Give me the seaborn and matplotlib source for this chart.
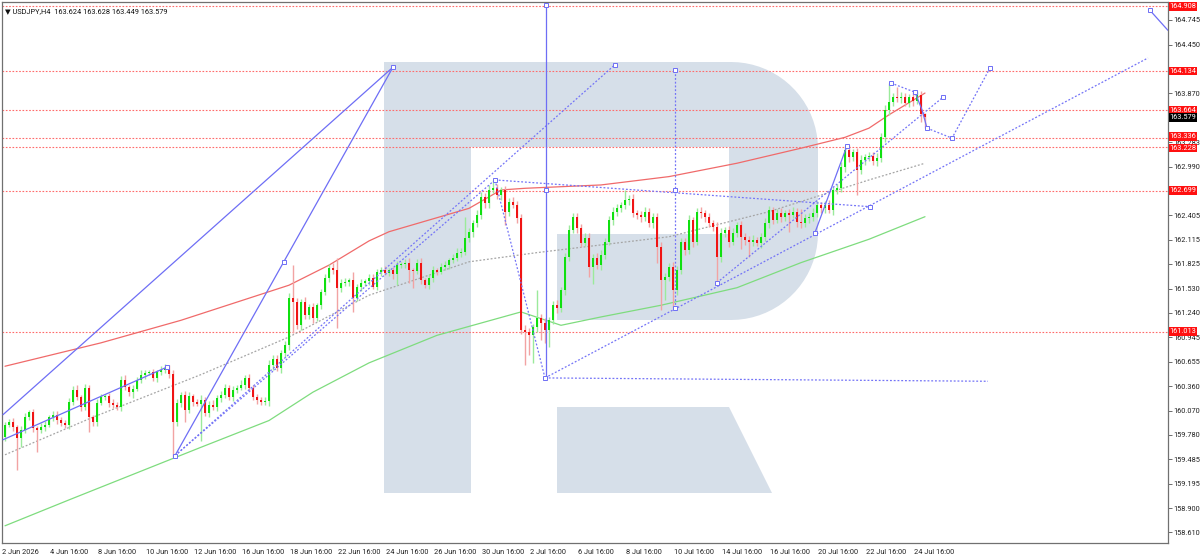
import matplotlib
matplotlib.use("Agg")
import matplotlib.pyplot as plt
from matplotlib.patches import Polygon
from matplotlib.transforms import offset_copy
import numpy as np
import pandas as pd
import seaborn as sns

# --- data (H4 bars, index 0 = first bar on the left) ---
header = "\u25BC USDJPY,H4  163.624 163.628 163.449 163.579"

first_open = 159.75
closes = [
    159.90, 159.93, 159.87, 159.74, 159.84, 159.99, 160.05, 159.86, 159.84, 159.87,
    159.90, 159.99, 160.02, 159.96, 159.92, 159.90, 160.17, 160.32, 160.23, 160.11,
    160.34, 159.99, 159.93, 160.16, 160.23, 160.24, 160.16, 160.14, 160.11, 160.44,
    160.35, 160.29, 160.33, 160.44, 160.50, 160.52, 160.53, 160.46, 160.53, 160.56,
    160.58, 160.51, 159.93, 160.16, 160.26, 160.08, 160.24, 160.17, 160.15, 160.20,
    160.04, 160.14, 160.11, 160.22, 160.26, 160.34, 160.23, 160.32, 160.34, 160.38,
    160.46, 160.34, 160.23, 160.20, 160.17, 160.18, 160.61, 160.69, 160.58, 160.76,
    160.85, 161.42, 161.37, 161.09, 161.37, 161.21, 161.31, 161.18, 161.33, 161.49,
    161.66, 161.78, 161.75, 161.54, 161.60, 161.61, 161.63, 161.42, 161.55, 161.60,
    161.62, 161.66, 161.55, 161.73, 161.75, 161.72, 161.75, 161.70, 161.81, 161.82,
    161.84, 161.75, 161.74, 161.84, 161.63, 161.57, 161.66, 161.75, 161.73, 161.79,
    161.81, 161.87, 161.90, 161.96, 161.97, 162.14, 162.21, 162.31, 162.41, 162.63,
    162.55, 162.71, 162.73, 162.65, 162.71, 162.45, 162.57, 162.53, 162.37, 161.03,
    161.01, 160.97, 161.07, 161.18, 161.12, 161.03, 161.15, 161.33, 161.30, 161.51,
    161.91, 162.23, 162.39, 162.25, 162.08, 162.14, 161.79, 161.90, 161.81, 161.93,
    162.09, 162.35, 162.45, 162.49, 162.53, 162.59, 162.60, 162.43, 162.41, 162.39,
    162.45, 162.31, 162.39, 162.03, 161.63, 161.67, 161.79, 161.51, 161.75, 162.09,
    161.99, 162.35, 162.09, 162.45, 162.43, 162.39, 162.31, 162.27, 161.91, 162.20,
    162.23, 162.09, 162.20, 162.29, 162.15, 162.11, 162.09, 162.11, 162.08, 162.15,
    162.31, 162.47, 162.35, 162.43, 162.39, 162.43, 162.41, 162.45, 162.33, 162.31,
    162.37, 162.39, 162.43, 162.53, 162.49, 162.53, 162.47, 162.71, 162.73, 162.99,
    163.19, 163.10, 163.16, 162.95, 163.07, 163.10, 163.12, 163.06, 163.09, 163.34,
    163.67, 163.76, 163.82, 163.81, 163.82, 163.75, 163.82, 163.78, 163.85, 163.624,
    163.579,
]
wick_up = [
    .03, .04, .05, .03, .04, .05, .03, .04, .03, .05,
    .04, .03, .05, .04, .03, .04, .05, .04, .06, .03,
    .05, .04, .03, .05, .04, .03, .04, .05, .03, .04,
    .05, .03, .04, .03, .05, .04, .03, .04, .03, .04,
    .05, .03, .04, .05, .03, .04, .05, .03, .04, .05,
    .03, .04, .05, .03, .04, .05, .03, .04, .03, .05,
    .04, .05, .03, .04, .03, .05, .06, .04, .05, .03,
    .05, .06, .39, .05, .04, .06, .04, .05, .03, .04,
    .05, .04, .06, .15, .04, .05, .03, .10, .04, .05,
    .03, .04, .05, .03, .04, .05, .03, .04, .05, .03,
    .04, .05, .03, .04, .05, .03, .04, .05, .03, .04,
    .05, .03, .04, .05, .04, .25, .05, .04, .06, .05,
    .04, .06, .10, .05, .04, .05, .04, .06, .05, .05,
    .06, .05, .04, .33, .05, .06, .04, .05, .06, .04,
    .05, .06, .05, .04, .05, .06, .05, .04, .05, .06,
    .04, .05, .06, .05, .04, .12, .05, .06, .04, .05,
    .06, .05, .04, .05, .06, .05, .04, .06, .05, .04,
    .05, .06, .04, .05, .06, .04, .05, .04, .06, .05,
    .04, .05, .06, .04, .05, .04, .05, .06, .04, .05,
    .06, .05, .04, .05, .06, .04, .05, .06, .04, .15,
    .05, .04, .06, .05, .04, .05, .06, .04, .05, .06,
    .05, .06, .04, .05, .06, .04, .05, .04, .06, .05,
    .06, .23, .05, .12, .06, .05, .04, .06, .05, .04,
    .004,
]
wick_dn = [
    .04, .03, .05, .38, .11, .04, .03, .05, .27, .04,
    .05, .03, .04, .05, .03, .04, .05, .03, .04, .05,
    .03, .18, .04, .05, .03, .04, .05, .04, .03, .05,
    .04, .05, .07, .03, .04, .05, .03, .04, .05, .03,
    .04, .05, .42, .04, .05, .15, .04, .05, .03, .45,
    .04, .05, .03, .04, .05, .04, .03, .05, .04, .03,
    .05, .04, .03, .05, .04, .03, .06, .05, .04, .06,
    .05, .06, .37, .05, .06, .04, .05, .06, .04, .05,
    .04, .05, .04, .48, .05, .04, .05, .17, .04, .05,
    .04, .05, .03, .04, .05, .03, .04, .05, .13, .04,
    .05, .15, .20, .04, .05, .03, .04, .05, .04, .03,
    .04, .05, .03, .04, .05, .04, .05, .06, .04, .05,
    .06, .05, .04, .05, .06, .16, .05, .04, .06, .05,
    .39, .23, .33, .06, .21, .15, .20, .05, .06, .05,
    .06, .05, .04, .06, .05, .04, .12, .20, .05, .06,
    .05, .04, .06, .05, .04, .05, .06, .04, .05, .06,
    .05, .04, .06, .20, .36, .24, .05, .21, .06, .05,
    .06, .05, .06, .04, .05, .06, .04, .05, .31, .06,
    .05, .06, .04, .05, .15, .06, .18, .05, .04, .06,
    .05, .06, .05, .04, .06, .05, .20, .04, .06, .05,
    .04, .06, .05, .04, .06, .05, .04, .06, .05, .04,
    .06, .05, .04, .30, .05, .06, .04, .05, .06, .04,
    .05, .06, .04, .05, .06, .04, .05, .06, .04, .10,
    .13,
]

# moving averages (bar index, price)
ma_red_bar = [0, 24, 44, 71, 81, 91, 96, 116, 124, 130, 149, 166, 183, 199, 210, 216, 221, 230]
ma_red_val = [160.60, 160.88, 161.15, 161.57, 161.81, 162.10, 162.21, 162.49, 162.71, 162.73,
              162.77, 162.87, 163.03, 163.21, 163.34, 163.45, 163.61, 163.87]
ma_green_bar = [0, 16, 49, 66, 77, 91, 108, 129, 139, 149, 164, 183, 199, 216, 230]
ma_green_val = [158.69, 159.00, 159.63, 159.95, 160.29, 160.64, 160.97, 161.25, 161.09, 161.19,
                161.33, 161.54, 161.84, 162.12, 162.39]
ma_gray_bar = [0, 22, 49, 71, 91, 116, 133, 166, 191, 216, 230]
ma_gray_val = [159.54, 159.99, 160.50, 160.95, 161.45, 161.85, 161.96, 162.15, 162.45, 162.83, 163.03]

# horizontal levels and the last price
levels = [164.908, 164.134, 163.664, 163.336, 163.228, 162.699, 161.013]
last_price = 163.579

# analyst drawings (bar index, price)
solid_paths = [
    [(-0.5, 160.02), (97, 164.18)],
    [(-0.5, 159.72), (40.5, 160.59)],
    [(42.5, 159.53), (97, 164.18)],
    [(135.25, 164.92), (135.25, 160.46)],
    [(202.5, 162.20), (210.5, 163.24)],
    [(227.5, 163.88), (229.25, 163.67), (230.5, 163.45)],
    [(286.25, 164.86), (290.75, 164.62)],
]
dotted_paths = [
    [(42.5, 159.53), (152.5, 164.21)],
    [(42.5, 159.53), (122.5, 162.83)],
    [(122.5, 162.83), (135, 160.46)],
    [(122.5, 162.83), (216.25, 162.51)],
    [(135, 160.46), (245.75, 160.42)],
    [(135, 160.46), (285.75, 164.29)],
    [(167.5, 164.15), (167.5, 161.30)],
    [(178, 161.60), (234.5, 163.82)],
    [(230.5, 163.45), (236.75, 163.33), (246.25, 164.17)],
    [(221.5, 163.99), (227.5, 163.88)],
]
anchor_points = [
    (97, 164.18), (40.5, 160.59), (42.5, 159.53), (69.75, 161.85), (135.25, 164.92),
    (135.25, 162.71), (135, 160.46), (122.5, 162.83), (152.5, 164.21), (167.5, 162.71),
    (167.5, 161.30), (167.5, 164.15), (178, 161.60), (202.5, 162.20), (210.5, 163.24),
    (221.5, 163.99), (227.5, 163.88), (230.5, 163.45), (236.75, 163.33), (246.25, 164.17),
    (234.5, 163.82), (286.25, 164.86), (216.25, 162.51),
]

y_ticks = [164.745, 164.450, 163.870, 163.283, 162.990, 162.405, 162.115, 161.825, 161.530,
           161.240, 160.945, 160.655, 160.360, 160.070, 159.780, 159.485, 159.195, 158.900, 158.610]
x_labels = ["2 Jun 2026", "4 Jun 16:00", "8 Jun 16:00", "10 Jun 16:00", "12 Jun 16:00",
            "16 Jun 16:00", "18 Jun 16:00", "22 Jun 16:00", "24 Jun 16:00", "26 Jun 16:00",
            "30 Jun 16:00", "2 Jul 16:00", "6 Jul 16:00", "8 Jul 16:00", "10 Jul 16:00",
            "14 Jul 16:00", "16 Jul 16:00", "20 Jul 16:00", "22 Jul 16:00", "24 Jul 16:00"]

# --- build the frame ---
sns.set_style("white")
plt.rcParams["font.family"] = ["Roboto", "DejaVu Sans"]
FS = 5.3

df = pd.DataFrame({"close": closes, "up": wick_up, "dn": wick_dn})
df["bar"] = np.arange(len(df))
df["open"] = [first_open] + closes[:-1]
df["high"] = df[["open", "close"]].max(axis=1) + df["up"]
df["low"] = df[["open", "close"]].min(axis=1) - df["dn"]
rising = df["close"] >= df["open"]

W, H = 1200, 555
fig = plt.figure(figsize=(W / 100, H / 100), dpi=100)
ax = fig.add_axes([2 / W, 12 / H, 1166 / W, 541 / H])
ax.set_xlim(-0.75, 290.75)
ax.set_ylim(158.484, 164.96)


def px(x, y):
    # pixel position in the picture -> axes fraction (for the watermark only)
    return ((x - 2) / 1166, (543 - y) / 541)


# RoboForex-like "R" watermark
t1 = np.linspace(np.pi / 2, 0, 20)
t2 = np.linspace(0, -np.pi / 2, 20)
outer = [(384, 493), (384, 62)]
outer += [(731 + 87 * np.cos(t), 149 - 87 * np.sin(t)) for t in t1]
outer += [(731 + 87 * np.cos(t), 233 - 87 * np.sin(t)) for t in t2]
outer += [(557, 320), (557, 234), (729, 234), (729, 147), (471, 147), (471, 493)]
leg = [(557, 407), (729, 407), (772, 493), (557, 493)]
for shape in (outer, leg):
    ax.add_patch(Polygon([px(*p) for p in shape], closed=True, transform=ax.transAxes,
                         fc="#D6DFE9", ec="none", zorder=0))

# levels
for lv in levels:
    ax.axhline(lv, color="#FF6B6B", lw=0.8, ls=(0, (1.5, 1.5)), zorder=1)

# moving averages
sns.lineplot(x=ma_red_bar, y=ma_red_val, ax=ax, color="#F06A6A", lw=0.9, zorder=2)
sns.lineplot(x=ma_green_bar, y=ma_green_val, ax=ax, color="#7EDC7E", lw=0.9, zorder=2)
sns.lineplot(x=ma_gray_bar, y=ma_gray_val, ax=ax, color="#A5A5A5", lw=0.9,
             linestyle=(0, (1.5, 1.5)), zorder=2)

# candles
wick_col = np.where(rising, "#9BEA9B", "#F2A3A3")
body_col = np.where(rising, "#10E010", "#F01414")
ax.vlines(df["bar"], df["low"], df["high"], colors=wick_col, lw=1.0, zorder=3)
body_h = (df["close"] - df["open"]).where((df["close"] - df["open"]).abs() > 0.008, 0.008)
ax.bar(df["bar"], body_h, bottom=df["open"], width=0.62, color=body_col, lw=0, zorder=4)

# analyst drawings
for path in solid_paths:
    xs, ys = zip(*path)
    ax.plot(xs, ys, color="#6E6EF5", lw=0.9, zorder=5)
for path in dotted_paths:
    xs, ys = zip(*path)
    ax.plot(xs, ys, color="#7373F7", lw=0.9, ls=(0, (1.5, 1.5)), zorder=5)
ax_x, ax_y = zip(*anchor_points)
ax.plot(ax_x, ax_y, ls="none", marker="s", ms=2.6, mfc="white", mec="#6E6EF5", mew=0.7,
        zorder=6)

# axes styling
ax.yaxis.tick_right()
ax.set_yticks(y_ticks)
ax.set_yticklabels([f"{v:.3f}" for v in y_ticks])
ax.set_xticks([12 * k - 0.75 for k in range(len(x_labels))])
ax.set_xticklabels(x_labels, ha="left")
ax.tick_params(axis="both", labelsize=FS, length=3, width=0.6, color="#555555",
               labelcolor="#222222", direction="out")
ax.tick_params(axis="y", pad=1)
ax.tick_params(axis="x", pad=1.5)
ax.set_xlabel("")
ax.set_ylabel("")
for sp in ax.spines.values():
    sp.set_color("#707070")
    sp.set_linewidth(0.9)

# price labels on the scale; the two close levels are nudged apart a little
yt = ax.get_yaxis_transform()
nudge = {163.336: 1.0, 163.228: -1.0}
for lv in levels:
    tr = offset_copy(yt, fig=fig, y=nudge.get(lv, 0.0), units="points")
    ax.text(1.0012, lv, f"{lv:.3f}", transform=tr, fontsize=FS, color="white", va="center",
            ha="left", clip_on=False, zorder=10,
            bbox=dict(boxstyle="square,pad=0.12", fc="#FF1010", ec="none"))
ax.text(1.0012, last_price, f"{last_price:.3f}", transform=yt, fontsize=FS, color="white",
        va="center", ha="left", clip_on=False, zorder=10,
        bbox=dict(boxstyle="square,pad=0.12", fc="#000000", ec="none"))

ax.text(0.003, 0.988, header, transform=ax.transAxes, fontsize=FS, va="top", ha="left",
        color="#111111", zorder=10)

fig.savefig("out.png", dpi=100)
